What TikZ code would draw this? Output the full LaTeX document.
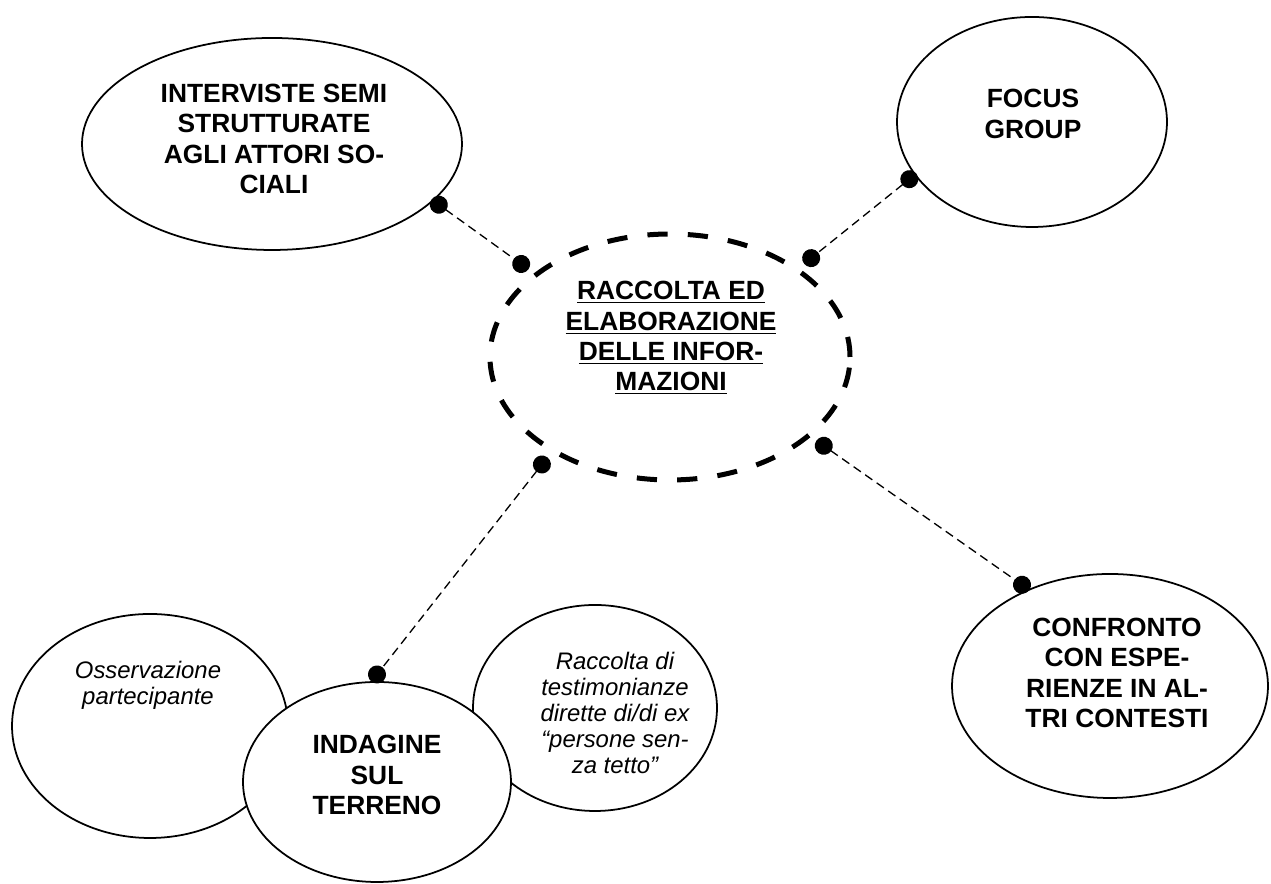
\documentclass[tikz,border=0pt]{standalone}
\usepackage{fontspec}
\setmainfont{Liberation Sans}
\usepackage{tikz}
\usetikzlibrary{shapes.geometric}
\usetikzlibrary{arrows.meta}
\tikzstyle{bubble} = [ellipse, draw, line width=1pt, fill=white, outer sep=0.15cm]
\tikzstyle{hub} = [ellipse, draw, line width=0.1cm, dash pattern=on 11.5pt off 11.5pt, outer sep=0.36cm]
\tikzstyle{caps} = [align=center, font=\bfseries\fontsize{15}{17.2}\selectfont]
\tikzstyle{note} = [align=center, font=\itshape\fontsize{13.6}{14.7}\selectfont]
\tikzstyle{line} = [draw, line width=0.75pt, dash pattern=on 5pt off 3pt,
    {Circle[length=0.36cm]}-{Circle[length=0.36cm]}, shorten <=-0.18cm, shorten >=-0.18cm]

\begin{document}
\begin{tikzpicture}
  \useasboundingbox (0,0) rectangle (25.42,17.68);
  % nodes
  \node [hub, minimum width=7.2cm, minimum height=4.92cm](raccolta) at (13.40,10.54){};
  \node [bubble, minimum width=7.6cm, minimum height=4.24cm](interviste) at (5.44,14.80){};
  \node [bubble, minimum width=5.4cm, minimum height=4.2cm](focus) at (20.64,15.24){};
  \node [bubble, minimum width=6.32cm, minimum height=4.48cm](confronto) at (22.20,3.96){};
  \node [bubble, minimum width=5.52cm, minimum height=4.48cm](osservazione) at (3.00,3.16){};
  \node [bubble, minimum width=4.88cm, minimum height=4.12cm](testimonianze) at (11.90,3.52){};
  \node [bubble, minimum width=5.36cm, minimum height=4.0cm](indagine) at (7.54,2.04){};
  % texts
  \node [caps](raccoltatxt) at (13.42,10.92){\underline{RACCOLTA ED}\\\underline{ELABORAZIONE}\\\underline{DELLE INFOR-}\\\underline{MAZIONI}};
  \node [caps](intervistetxt) at (5.48,14.90){INTERVISTE SEMI\\STRUTTURATE\\AGLI ATTORI SO-\\CIALI};
  \node [caps](focustxt) at (20.66,15.40){FOCUS\\GROUP};
  \node [caps](confrontotxt) at (22.34,4.22){CONFRONTO\\CON ESPE-\\RIENZE IN AL-\\TRI CONTESTI};
  \node [caps](indaginetxt) at (7.54,2.18){INDAGINE\\SUL\\TERRENO};
  \node [note](osservazionetxt) at (2.96,3.98){Osservazione\\partecipante};
  \node [note](testimonianzetxt) at (12.30,3.42){Raccolta di\\testimonianze\\dirette di/di ex\\``persone sen-\\za tetto''};
  % edges
  \path [line] (interviste.-20) -- (raccolta.148.5);
  \path [line] (focus.205.5) -- (raccolta.35.7);
  \path [line] (raccolta.-30) -- (confronto.131.5);
  \path [line] (raccolta.220.6) -- (indagine.90);
\end{tikzpicture}
\end{document}
